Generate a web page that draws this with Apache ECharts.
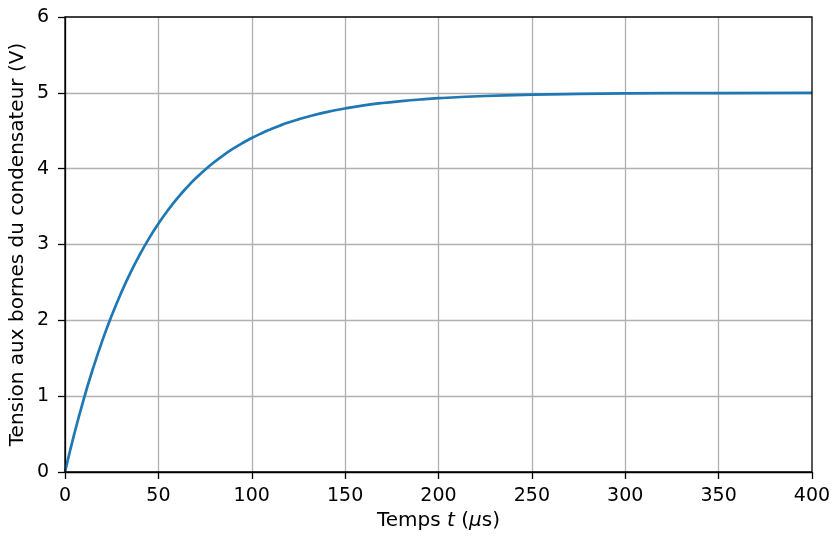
<!DOCTYPE html>
<html>
<head>
<meta charset="utf-8">
<script src="https://cdn.jsdelivr.net/npm/echarts@6/dist/echarts.min.js"></script>
<style>html,body{margin:0;padding:0;background:#fff;}#c{width:832px;height:536px;}</style>
</head>
<body>
<div id="c"></div>
<script>
// Time (µs) and voltage (V)
const times = [0, 5, 10, 15, 20, 25, 30, 35, 40, 45, 50, 55, 60, 65, 70, 75, 80, 85, 90, 95, 100, 105, 110, 115, 120, 125, 130, 140, 150, 160, 170, 180, 190, 200, 225, 250, 275, 300, 350, 400];
const volts = [0, 0.505, 0.959, 1.366, 1.733, 2.063, 2.359, 2.626, 2.865, 3.081, 3.274, 3.449, 3.605, 3.746, 3.873, 3.986, 4.088, 4.180, 4.263, 4.337, 4.404, 4.464, 4.518, 4.567, 4.611, 4.650, 4.685, 4.746, 4.794, 4.834, 4.866, 4.891, 4.912, 4.929, 4.958, 4.976, 4.986, 4.992, 4.997, 5.000];
const xTitle = 'Temps';
const yTitle = 'Tension aux bornes du condensateur (V)';

const font = 'DejaVu Sans';
const chart = echarts.init(document.getElementById('c'), null, {renderer: 'canvas'});
chart.setOption({
  animation: false,
  backgroundColor: '#fff',
  grid: {left: 65, right: 20, top: 17, bottom: 64, containLabel: false, outerBoundsMode: 'none',
         show: true, borderColor: '#000', borderWidth: 1.3, backgroundColor: 'transparent', z: 10},
  xAxis: {
    type: 'value', min: 0, max: 400, interval: 50,
    name: '{n|' + xTitle + ' }{i|t}{n| (}{i|μ}{n|s)}',
    nameLocation: 'middle', nameGap: 38,
    nameTextStyle: {rich: {n: {fontFamily: font, fontSize: 20, color: '#000'}, i: {fontFamily: font, fontStyle: 'italic', fontSize: 20, color: '#000'}}},
    axisLine: {show: true, onZero: false, lineStyle: {color: '#000', width: 1.3}},
    axisTick: {show: true, inside: false, length: 7, lineStyle: {color: '#000', width: 1.3}},
    axisLabel: {fontFamily: font, fontSize: 19, color: '#000', margin: 15},
    splitLine: {show: true, showMinLine: false, showMaxLine: false, lineStyle: {color: '#b0b0b0', width: 1.3}}
  },
  yAxis: {
    type: 'value', min: 0, max: 6, interval: 1,
    name: yTitle, nameLocation: 'middle', nameGap: 37, nameMoveOverlap: false,
    nameTextStyle: {fontFamily: font, fontSize: 20, color: '#000'},
    axisLine: {show: true, onZero: false, lineStyle: {color: '#000', width: 1.3}},
    axisTick: {show: true, inside: false, length: 7, lineStyle: {color: '#000', width: 1.3}},
    axisLabel: {fontFamily: font, fontSize: 19, color: '#000', margin: 16},
    splitLine: {show: true, showMinLine: false, showMaxLine: false, lineStyle: {color: '#b0b0b0', width: 1.3}}
  },
  series: [{
    type: 'line',
    data: times.map((t, i) => [t, volts[i]]),
    smooth: 0.5,
    showSymbol: false,
    lineStyle: {color: '#1f77b4', width: 2.7},
    clip: true
  }]
});
</script>
</body>
</html>
